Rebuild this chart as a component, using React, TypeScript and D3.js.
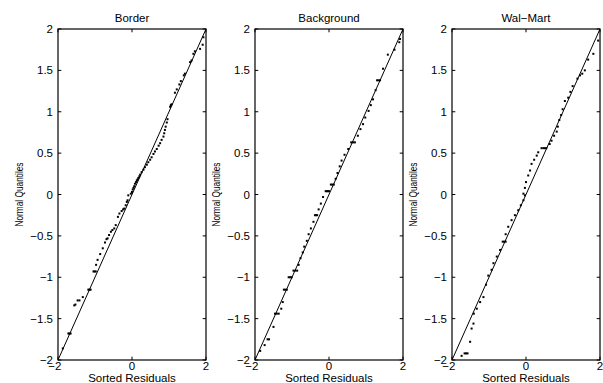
import React from 'react';
import * as d3 from 'd3';

const panelTitles = ['Border', 'Background', 'Wal\u2212Mart'];
const yTicks = [-2, -1.5, -1, -0.5, 0, 0.5, 1, 1.5, 2];
const xTicks = [-2, 0, 2];
const xLabel = 'Sorted Residuals';
const yLabel = 'Normal Quantiles';

// [sorted residual, normal quantile]
const borderPoints: [number, number][] = [
  [1.93, 1.9], [1.91, 1.81], [1.84, 1.76], [1.7, 1.73], [1.66, 1.7], [1.61, 1.62], [1.57, 1.6],
  [1.43, 1.46], [1.4, 1.44], [1.32, 1.37], [1.28, 1.33], [1.21, 1.27], [1.16, 1.23], [1.07, 1.09],
  [1.05, 1.08], [1.03, 1.06], [0.96, 0.91], [0.94, 0.87], [0.91, 0.82], [0.89, 0.78], [0.87, 0.74],
  [0.85, 0.7], [0.8, 0.66], [0.76, 0.62], [0.72, 0.59], [0.67, 0.55], [0.62, 0.52], [0.58, 0.49],
  [0.53, 0.45], [0.49, 0.42], [0.44, 0.39], [0.4, 0.36], [0.35, 0.33], [0.31, 0.3], [0.26, 0.27],
  [0.22, 0.24], [0.2, 0.22], [0.17, 0.2], [0.15, 0.18], [0.13, 0.17], [0.11, 0.15], [0.08, 0.13],
  [0.06, 0.1], [0.04, 0.08], [0.02, 0.06], [0.0, 0.03], [-0.03, 0.01], [-0.1, -0.01], [-0.12, -0.07],
  [-0.14, -0.09], [-0.17, -0.13], [-0.21, -0.17], [-0.24, -0.18], [-0.28, -0.2], [-0.34, -0.23],
  [-0.38, -0.27], [-0.44, -0.37], [-0.48, -0.41], [-0.53, -0.43], [-0.57, -0.45], [-0.62, -0.49],
  [-0.66, -0.53], [-0.69, -0.54], [-0.73, -0.58], [-0.79, -0.65], [-0.86, -0.72], [-0.93, -0.79],
  [-0.97, -0.85], [-1.04, -0.93], [-1.01, -0.93], [-0.98, -0.93], [-1.12, -1.15], [-1.15, -1.15],
  [-1.18, -1.15], [-1.33, -1.24], [-1.42, -1.28], [-1.47, -1.28], [-1.53, -1.33], [-1.56, -1.34],
  [-1.72, -1.68], [-1.69, -1.68], [-1.66, -1.68], [-1.87, -1.86],
];

const backgroundPoints: [number, number][] = [
  [1.92, 1.88], [1.9, 1.84], [1.77, 1.75], [1.59, 1.69], [1.46, 1.52], [1.3, 1.38], [1.34, 1.38],
  [1.38, 1.38], [1.26, 1.26], [1.19, 1.15], [1.13, 1.08], [1.07, 1.01], [0.98, 0.93], [0.92, 0.85],
  [0.85, 0.79], [0.78, 0.71], [0.6, 0.63], [0.65, 0.63], [0.7, 0.63], [0.52, 0.55], [0.42, 0.48],
  [0.34, 0.41], [0.29, 0.34], [0.23, 0.26], [0.18, 0.19], [0.05, 0.12], [0.09, 0.12], [0.13, 0.12],
  [-0.09, 0.04], [-0.06, 0.04], [-0.03, 0.04], [0.0, 0.04], [-0.16, -0.03], [-0.22, -0.11],
  [-0.28, -0.18], [-0.38, -0.25], [-0.35, -0.25], [-0.32, -0.25], [-0.42, -0.33], [-0.49, -0.41],
  [-0.55, -0.48], [-0.6, -0.56], [-0.67, -0.63], [-0.71, -0.7], [-0.77, -0.77], [-0.82, -0.85],
  [-0.96, -0.92], [-0.91, -0.92], [-0.86, -0.92], [-1.09, -1.0], [-1.05, -1.0], [-1.01, -1.0],
  [-1.22, -1.15], [-1.18, -1.15], [-1.14, -1.15], [-1.25, -1.3], [-1.29, -1.38], [-1.46, -1.44],
  [-1.41, -1.44], [-1.36, -1.44], [-1.5, -1.6], [-1.66, -1.75], [-1.62, -1.75], [-1.74, -1.82],
  [-1.86, -1.89],
];

const walmartPoints: [number, number][] = [
  [1.95, 1.86], [1.82, 1.7], [1.68, 1.63], [1.59, 1.5], [1.52, 1.46], [1.46, 1.44], [1.39, 1.4],
  [1.26, 1.31], [1.2, 1.24], [1.14, 1.17], [1.05, 1.13], [0.99, 1.03], [0.95, 0.96], [0.9, 0.9],
  [0.86, 0.82], [0.83, 0.76], [0.76, 0.71], [0.69, 0.65], [0.64, 0.61], [0.42, 0.56], [0.47, 0.56],
  [0.51, 0.56], [0.55, 0.56], [0.33, 0.51], [0.29, 0.47], [0.22, 0.42], [0.15, 0.37], [0.11, 0.29],
  [0.06, 0.23], [0.0, 0.15], [-0.03, 0.08], [-0.07, 0.01], [-0.03, -0.01], [-0.07, -0.07],
  [-0.14, -0.13], [-0.21, -0.19], [-0.3, -0.25], [-0.39, -0.31], [-0.48, -0.39], [-0.55, -0.48],
  [-0.63, -0.57], [-0.59, -0.57], [-0.55, -0.57], [-0.7, -0.67], [-0.79, -0.75], [-0.88, -0.83],
  [-0.93, -0.91], [-1.02, -0.98], [-1.08, -1.09], [-1.15, -1.24], [-1.24, -1.3], [-1.33, -1.38],
  [-1.41, -1.44], [-1.42, -1.56], [-1.47, -1.62], [-1.51, -1.78], [-1.66, -1.92], [-1.62, -1.92],
  [-1.58, -1.92], [-1.74, -1.95],
];

const panelData = [borderPoints, backgroundPoints, walmartPoints];

const W = 603;
const H = 383;
const panelLefts = [58, 255, 452];
const panelWidth = 148;
const top = 29;
const bottom = 360;
const tickLen = 3.3;
const font = '"Liberation Sans", Arial, Helvetica, sans-serif';

const fmt = (v: number) => (v < 0 ? '\u2212' : '') + String(Math.abs(v));

function Panel({ left, title, points, idx }: { left: number; title: string; points: [number, number][]; idx: number }) {
  const x = d3.scaleLinear().domain([-2, 2]).range([left, left + panelWidth]);
  const y = d3.scaleLinear().domain([-2, 2]).range([bottom, top]);
  const line = d3.line<number>().x((d) => x(d)).y((d) => y(d));
  const clipId = `clip${idx}`;
  return (
    <g>
      <defs>
        <clipPath id={clipId}>
          <rect x={left} y={top} width={panelWidth} height={bottom - top} />
        </clipPath>
      </defs>
      <text x={x(0)} y={22} textAnchor="middle" fontSize={11.5} fontFamily={font}>{title}</text>
      <g clipPath={`url(#${clipId})`}>
        <path d={line([-2, 2]) || ''} stroke="#000" strokeWidth={1} fill="none" />
        {points.map((p, i) => (
          <rect key={i} x={x(p[0]) - 1} y={y(p[1]) - 1} width={2} height={2} fill="#000" />
        ))}
      </g>
      <rect x={left} y={top} width={panelWidth} height={bottom - top} fill="none" stroke="#000" strokeWidth={1.2} />
      {yTicks.map((t) => (
        <g key={'y' + t}>
          <line x1={left} x2={left + tickLen} y1={y(t)} y2={y(t)} stroke="#000" strokeWidth={1} />
          <line x1={left + panelWidth} x2={left + panelWidth - tickLen} y1={y(t)} y2={y(t)} stroke="#000" strokeWidth={1} />
          <text x={left - 5} y={y(t)} dy="0.35em" textAnchor="end" fontSize={11.5} fontFamily={font}>{fmt(t)}</text>
        </g>
      ))}
      {xTicks.map((t) => (
        <g key={'x' + t}>
          <line x1={x(t)} x2={x(t)} y1={bottom} y2={bottom - tickLen} stroke="#000" strokeWidth={1} />
          <line x1={x(t)} x2={x(t)} y1={top} y2={top + tickLen} stroke="#000" strokeWidth={1} />
          <text
            x={t < 0 ? x(t) + 3.3 : x(t)}
            y={370}
            textAnchor={t < 0 ? 'end' : 'middle'}
            fontSize={11.5}
            fontFamily={font}
          >
            {fmt(t)}
          </text>
        </g>
      ))}
      <text x={x(0)} y={382} textAnchor="middle" fontSize={11.5} fontFamily={font}>{xLabel}</text>
      <text
        transform={`translate(${left - 35},${(top + bottom) / 2}) rotate(-90)`}
        textAnchor="middle"
        fontSize={10.5}
        fontFamily={font}
        textLength={64}
        lengthAdjust="spacingAndGlyphs"
      >
        {yLabel}
      </text>
    </g>
  );
}

export default function App() {
  return (
    <svg width={W} height={H} style={{ position: 'absolute', left: 0, top: 0, background: '#fff' }}>
      <rect x={0} y={0} width={W} height={H} fill="#fff" />
      {panelLefts.map((l, i) => (
        <Panel key={i} left={l} title={panelTitles[i]} points={panelData[i]} idx={i} />
      ))}
    </svg>
  );
}
